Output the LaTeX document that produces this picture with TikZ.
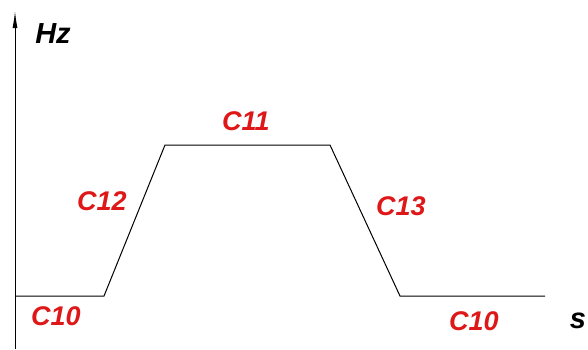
\documentclass[tikz,border=0pt]{standalone}
\usepackage{fontspec}
\setmainfont{Liberation Sans}
\usetikzlibrary{arrows.meta}
\definecolor{lblred}{RGB}{222,24,24}
\tikzset{
  profile/.style={line width=1pt, black, line join=miter},
  axisline/.style={line width=1pt, black, -{Latex[length=17pt,width=5pt]}},
  phase/.style={text=lblred, font=\fontsize{27}{30}\selectfont\bfseries\itshape, inner sep=0pt},
  unit/.style={text=black, font=\fontsize{29}{32}\selectfont\bfseries\itshape, inner sep=0pt}
}
\begin{document}
\begin{tikzpicture}[x=1pt, y=-1pt]
  \useasboundingbox (0,0) rectangle (588,349);
  % frequency axis
  \coordinate (ybot) at (15,349);
  \coordinate (ytop) at (15,11);
  \draw[axisline] (ybot) -- (ytop);
  % ramp profile
  \coordinate (p0) at (15,296);
  \coordinate (p1) at (104,296);
  \coordinate (p2) at (165,145);
  \coordinate (p3) at (330,145);
  \coordinate (p4) at (400,296);
  \coordinate (p5) at (545,296);
  \draw[profile] (p0) -- (p1) -- (p2) -- (p3) -- (p4) -- (p5);
  % labels
  \node[unit] (hz) at (53,34) {Hz};
  \node[unit] (sec) at (578,321) {s};
  \node[phase] (c11) at (246,121) {C11};
  \node[phase] (c12) at (102,201) {C12};
  \node[phase] (c13) at (401,206) {C13};
  \node[phase] (c10a) at (56,316) {C10};
  \node[phase] (c10b) at (474,321) {C10};
\end{tikzpicture}
\end{document}
